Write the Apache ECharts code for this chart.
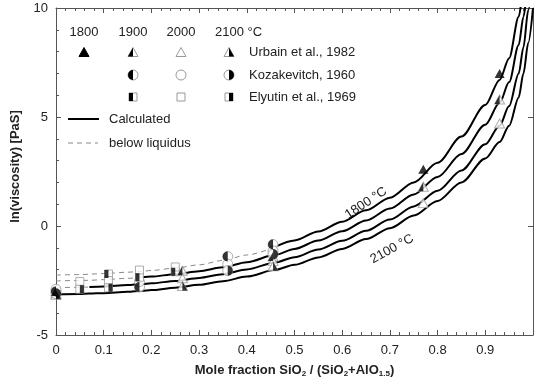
<!DOCTYPE html>
<html>
<head>
<meta charset="utf-8">
<script src="https://cdn.jsdelivr.net/npm/echarts@6.0.0/dist/echarts.min.js"></script>
<style>
  html, body { margin: 0; padding: 0; background: #fff; }
  #chart { width: 535px; height: 383px; }
</style>
</head>
<body>
<div id="chart"></div>
<script>
// calculated curves, ln(viscosity) read at these mole fractions
const xs = [0, 0.05, 0.07, 0.1, 0.15, 0.18, 0.2, 0.25, 0.3, 0.35, 0.4, 0.46, 0.5, 0.55, 0.6, 0.65, 0.7, 0.75, 0.8, 0.85, 0.9, 0.93, 0.95, 0.97, 0.98, 0.99, 1.0]
const calc1800 = [-2.25, -2.23, -2.21, -2.18, -2.12, -2.08, -2.04, -1.93, -1.78, -1.58, -1.33, -0.95, -0.66, -0.25, 0.2, 0.72, 1.3, 2.0, 2.9, 4.1, 5.55, 6.7, 7.7, 9.6, 10.8, 12.0, 13.5]
const calc1900 = [-2.52, -2.5, -2.49, -2.46, -2.4, -2.35, -2.32, -2.21, -2.07, -1.89, -1.66, -1.32, -1.05, -0.67, -0.24, 0.25, 0.8, 1.45, 2.25, 3.3, 4.65, 5.65, 6.6, 8.3, 9.6, 11.0, 12.5]
const calc2000 = [-2.83, -2.81, -2.8, -2.77, -2.71, -2.66, -2.63, -2.52, -2.38, -2.21, -1.99, -1.67, -1.43, -1.08, -0.68, -0.22, 0.3, 0.9, 1.62, 2.55, 3.75, 4.6, 5.5, 7.0, 8.2, 9.9, 11.5]
const calc2100 = [-3.14, -3.12, -3.1, -3.08, -3.02, -2.97, -2.94, -2.83, -2.7, -2.53, -2.32, -2.01, -1.78, -1.44, -1.05, -0.6, -0.1, 0.48, 1.15, 2.0, 3.1, 3.85, 4.6, 5.9, 7.0, 8.4, 10.0]
// below this mole fraction the curve is dashed (below liquidus)
const liquidusX = [0.46, 0.18, 0.07, 0]

// measured points [mole fraction, ln(viscosity)]
const urbain1800 = [[0.77, 2.6], [0.93, 7.0]]
const urbain1900 = [[0, -3.0], [0.265, -2.05], [0.455, -1.4], [0.77, 1.8], [0.93, 5.8]]
const urbain2000 = [[0, -3.1], [0.265, -2.4], [0.455, -1.6], [0.77, 1.05], [0.93, 4.7]]
const urbain2100 = [[0, -3.15], [0.265, -2.75], [0.455, -1.85]]
const koza1900 = [[0, -3.0], [0.175, -2.8], [0.36, -1.4], [0.455, -0.85]]
const koza2000 = [[0, -2.9], [0.175, -2.55], [0.36, -1.75], [0.455, -1.15]]
const koza2100 = [[0, -3.1], [0.36, -2.05], [0.455, -1.3]]
const elyutin1900 = [[0.11, -2.2], [0.175, -2.35], [0.25, -2.1]]
const elyutin2000 = [[0.05, -2.55], [0.11, -2.5], [0.175, -2.02], [0.25, -1.88]]
const elyutin2100 = [[0.05, -2.9], [0.11, -2.83]]

const temps = ['1800', '1900', '2000', '2100']
const sources = ['Urbain et al., 1982', 'Kozakevitch, 1960', 'Elyutin et al., 1969']

const FONT = 'Liberation Sans, Arial, sans-serif'
const GRAY = '#999'

const chart = echarts.init(document.getElementById('chart'))

const curveSeries = []
;[calc1800, calc1900, calc2000, calc2100].forEach((vals, i) => {
  const liq = liquidusX[i]
  const below = xs.map((x, k) => [x, vals[k]]).filter((p) => p[0] <= liq)
  const above = xs.map((x, k) => [x, vals[k]]).filter((p) => p[0] >= liq)
  const common = { type: 'line', showSymbol: false, smooth: 0.3, smoothMonotone: 'x', silent: true, z: 2 }
  if (below.length > 1) {
    curveSeries.push({ ...common, name: temps[i] + ' below', data: below,
      lineStyle: { color: '#888', width: 1, type: [5, 4] } })
  }
  curveSeries.push({ ...common, name: temps[i] + ' calc', data: above,
    lineStyle: { color: '#000', width: 2 } })
})

// half symbols are drawn as an outline layer plus a filled half on top
const HALF = {
  triLeft: 'path://M1,0 L1,2 L0,2 Z',
  triRight: 'path://M0,0 L1,2 L0,2 Z',
  circLeft: 'path://M1,0 A1,1 0 0 0 1,2 Z',
  circRight: 'path://M0,0 A1,1 0 0 1 0,2 Z',
}

function pointSeries(data, shape, kind) {
  const size = shape === 'triangle' ? [10, 9] : shape === 'circle' ? [10, 10] : [8, 8]
  const out = []
  if (kind === 'full') {
    out.push({ type: 'scatter', data, symbol: shape, symbolSize: size, z: 5,
      itemStyle: { color: '#000' } })
    return out
  }
  out.push({ type: 'scatter', data, symbol: shape, symbolSize: size, z: 5,
    itemStyle: { color: '#fff', borderColor: GRAY, borderWidth: 1 } })
  if (kind === 'open') return out
  const half = [size[0] / 2, size[1]]
  const dx = kind === 'left' ? -size[0] / 4 : size[0] / 4
  let sym
  if (shape === 'triangle') sym = kind === 'left' ? HALF.triLeft : HALF.triRight
  else if (shape === 'circle') sym = kind === 'left' ? HALF.circLeft : HALF.circRight
  else sym = 'rect'
  out.push({ type: 'scatter', data, symbol: sym, symbolSize: half, symbolOffset: [dx, 0], z: 6,
    itemStyle: { color: '#000' } })
  return out
}

const markSeries = [
  ...pointSeries(urbain1800, 'triangle', 'full'),
  ...pointSeries(urbain1900, 'triangle', 'left'),
  ...pointSeries(urbain2000, 'triangle', 'open'),
  ...pointSeries(urbain2100, 'triangle', 'right'),
  ...pointSeries(koza1900, 'circle', 'left'),
  ...pointSeries(koza2000, 'circle', 'open'),
  ...pointSeries(koza2100, 'circle', 'right'),
  ...pointSeries(elyutin1900, 'rect', 'left'),
  ...pointSeries(elyutin2000, 'rect', 'open'),
  ...pointSeries(elyutin2100, 'rect', 'right'),
]

// legend table drawn with graphic elements
function legendSymbol(shape, kind, cx, cy) {
  const els = []
  const fill = kind === 'full' ? '#000' : '#fff'
  const stroke = kind === 'full' ? '#000' : GRAY
  if (shape === 'triangle') {
    els.push({ type: 'polygon', shape: { points: [[cx - 5, cy + 4.5], [cx, cy - 4.5], [cx + 5, cy + 4.5]] },
      style: { fill, stroke, lineWidth: 1 } })
    if (kind === 'left') els.push({ type: 'polygon', shape: { points: [[cx - 5, cy + 4.5], [cx, cy - 4.5], [cx, cy + 4.5]] }, style: { fill: '#000' } })
    if (kind === 'right') els.push({ type: 'polygon', shape: { points: [[cx, cy - 4.5], [cx + 5, cy + 4.5], [cx, cy + 4.5]] }, style: { fill: '#000' } })
  } else if (shape === 'circle') {
    els.push({ type: 'circle', shape: { cx, cy, r: 5 }, style: { fill, stroke, lineWidth: 1 } })
    if (kind === 'left') els.push({ type: 'sector', shape: { cx, cy, r: 5, startAngle: Math.PI / 2, endAngle: Math.PI * 1.5 }, style: { fill: '#000' } })
    if (kind === 'right') els.push({ type: 'sector', shape: { cx, cy, r: 5, startAngle: -Math.PI / 2, endAngle: Math.PI / 2 }, style: { fill: '#000' } })
  } else {
    els.push({ type: 'rect', shape: { x: cx - 4, y: cy - 4, width: 8, height: 8 }, style: { fill, stroke, lineWidth: 1 } })
    if (kind === 'left') els.push({ type: 'rect', shape: { x: cx - 4, y: cy - 4, width: 4, height: 8 }, style: { fill: '#000' } })
    if (kind === 'right') els.push({ type: 'rect', shape: { x: cx, y: cy - 4, width: 4, height: 8 }, style: { fill: '#000' } })
  }
  return els
}

const colX = [84, 133, 181, 229]
const rowY = [52, 75, 97]
const txt = (text, x, y, extra) => ({ type: 'text', x, y,
  style: { text, font: '13px ' + FONT, fill: '#222', textVerticalAlign: 'middle', ...extra } })

const graphics = []
temps.forEach((t, i) => graphics.push(txt(i === 3 ? t + ' °C' : t, i === 3 ? colX[i] - 14 : colX[i], 32,
  i === 3 ? {} : { textAlign: 'center' })))
const kinds = ['full', 'left', 'open', 'right']
const shapes = ['triangle', 'circle', 'rect']
shapes.forEach((s, r) => {
  kinds.forEach((k, c) => {
    if (r > 0 && c === 0) return
    graphics.push(...legendSymbol(s, k, colX[c], rowY[r]))
  })
  graphics.push(txt(sources[r], 249, rowY[r]))
})
graphics.push({ type: 'line', shape: { x1: 68, y1: 119, x2: 99, y2: 119 }, style: { stroke: '#000', lineWidth: 2 } })
graphics.push(txt('Calculated', 109, 119))
graphics.push({ type: 'line', shape: { x1: 68, y1: 143, x2: 98, y2: 143 }, style: { stroke: '#888', lineWidth: 1, lineDash: [5, 4] } })
graphics.push(txt('below liquidus', 109, 143))
graphics.push({ type: 'text', x: 366, y: 203, rotation: 0.58,
  style: { text: '1800 °C', font: '13px ' + FONT, fill: '#222', textAlign: 'center', textVerticalAlign: 'middle' } })
graphics.push({ type: 'text', x: 392, y: 249, rotation: 0.5,
  style: { text: '2100 °C', font: '13px ' + FONT, fill: '#222', textAlign: 'center', textVerticalAlign: 'middle' } })

const axisLineStyle = { color: '#555', width: 1 }
const labelStyle = { color: '#222', fontSize: 13, fontFamily: FONT }

const option = {
  animation: false,
  grid: { left: 56, right: 2, top: 8, bottom: 41 },
  xAxis: [
    {
      type: 'value', min: 0, max: 1, interval: 0.1,
      name: 'Mole fraction SiO{s|2} / (SiO{s|2}+AlO{s|1.5})',
      nameLocation: 'middle', nameGap: 27,
      nameTextStyle: { fontWeight: 'bold', fontSize: 13, fontFamily: FONT, color: '#222',
        rich: { s: { fontSize: 8, fontWeight: 'bold', fontFamily: FONT, color: '#222', verticalAlign: 'bottom', padding: [8, 0, 0, 0] } } },
      axisLine: { onZero: false, lineStyle: axisLineStyle },
      axisTick: { inside: true, length: 5, lineStyle: axisLineStyle },
      minorTick: { show: true, splitNumber: 5, length: 3, lineStyle: axisLineStyle },
      splitLine: { show: false },
      axisLabel: { ...labelStyle, margin: 9, showMaxLabel: false, formatter: (v) => (v === 0 ? '0' : v.toFixed(1)) },
    },
    {
      type: 'value', min: 0, max: 1, interval: 0.1, position: 'top',
      axisLine: { onZero: false, lineStyle: axisLineStyle },
      axisTick: { inside: true, length: 5, lineStyle: axisLineStyle },
      minorTick: { show: true, splitNumber: 5, length: 3, lineStyle: axisLineStyle },
      splitLine: { show: false },
      axisLabel: { show: false },
    },
  ],
  yAxis: [
    {
      type: 'value', min: -5, max: 10, interval: 5,
      name: 'ln(viscosity) [PaS]', nameLocation: 'middle', nameGap: 34,
      nameTextStyle: { fontWeight: 'bold', fontSize: 13, fontFamily: FONT, color: '#222', padding: [0, 0, 0, 10] },
      axisLine: { show: true, onZero: false, lineStyle: axisLineStyle },
      axisTick: { show: true, inside: true, length: 5, lineStyle: axisLineStyle },
      minorTick: { show: true, splitNumber: 5, length: 3, lineStyle: axisLineStyle },
      splitLine: { show: false },
      axisLabel: { ...labelStyle, margin: 8 },
    },
    {
      type: 'value', min: -5, max: 10, interval: 5, position: 'right',
      axisLine: { show: true, onZero: false, lineStyle: axisLineStyle },
      axisTick: { show: true, inside: true, length: 5, lineStyle: axisLineStyle },
      splitLine: { show: false },
      axisLabel: { show: false },
    },
  ],
  graphic: graphics,
  series: [...curveSeries, ...markSeries],
}

chart.setOption(option)
</script>
</body>
</html>
